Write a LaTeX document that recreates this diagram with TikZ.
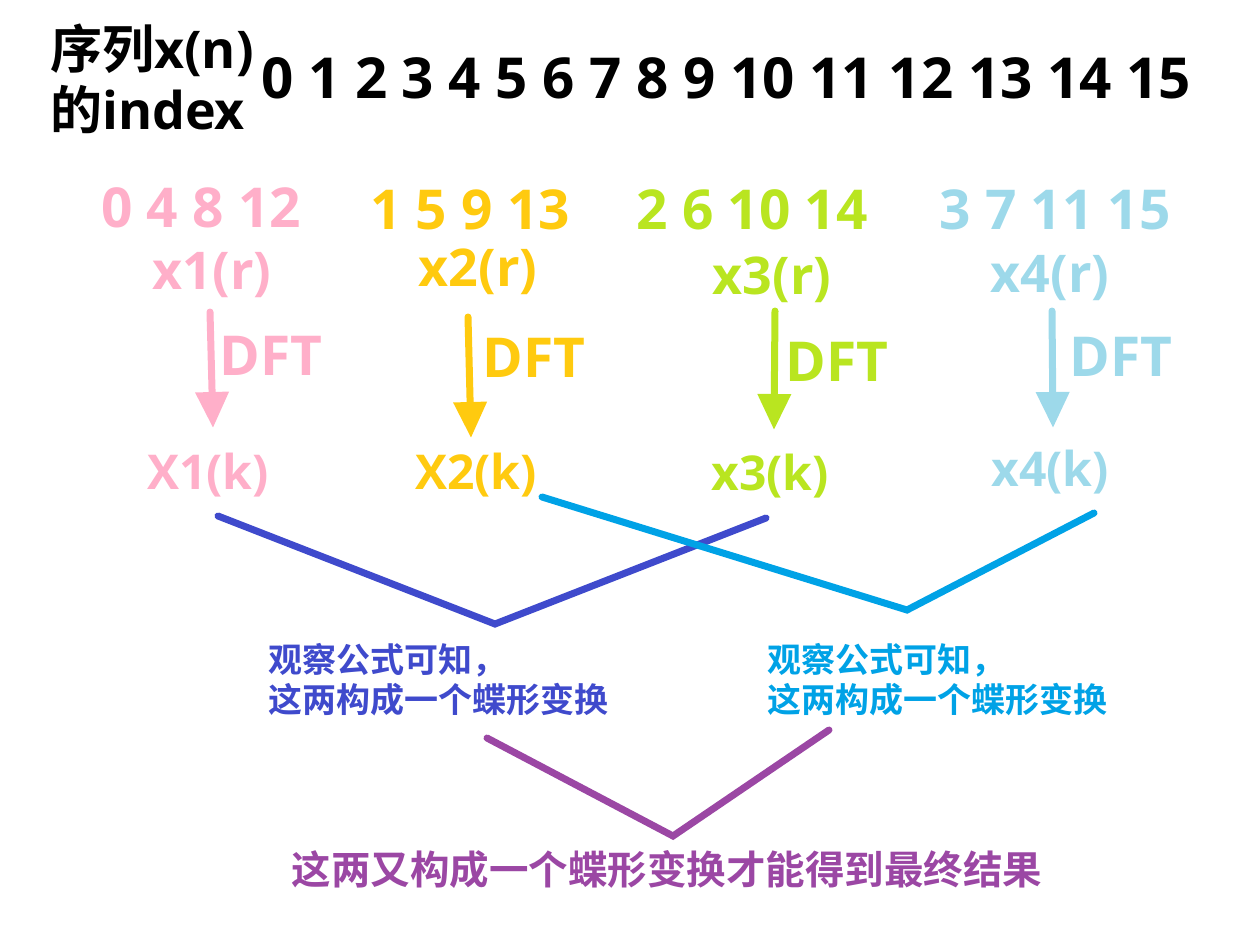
\documentclass[tikz,border=0pt]{standalone}
\usepackage{fontspec}
\setmainfont{Open Sans}[BoldFont={Open Sans Bold}]
\newfontfamily\cjk{Noto Sans CJK SC}[BoldFont={Noto Sans CJK SC Bold}]
\usetikzlibrary{arrows.meta}
\definecolor{cpink}{HTML}{FFAFC9}
\definecolor{cyel}{HTML}{FFCA0F}
\definecolor{cgrn}{HTML}{B9E520}
\definecolor{cblu}{HTML}{9DD9EA}
\definecolor{cdark}{HTML}{3F4ACC}
\definecolor{ccyan}{HTML}{00A2E6}
\definecolor{cpurp}{HTML}{9B47A4}
\tikzset{
  lbl/.style={inner sep=0pt, font=\bfseries\fontsize{#1}{#1}\selectfont},
  dft/.style={line width=7pt, -{Triangle[length=36pt,width=32pt]}},
  bfly/.style={line width=7pt, line cap=round, line join=miter},
}
\begin{document}
\begin{tikzpicture}[x=1pt,y=-1pt]
\useasboundingbox (0,0) rectangle (1251,934);
% header
\node[lbl=52, anchor=west, text=black] (hd1) at (50,50) {{\cjk 序列}x(n)};
\node[lbl=52, anchor=west, text=black] (hd2) at (50,110) {{\cjk 的}index};
\node[lbl=56.5, anchor=center, text=black] (idx) at (726,78) {0 1 2 3 4 5 6 7 8 9 10 11 12 13 14 15};
% groups
\node[lbl=55, text=cpink] (g1) at (201,208) {0 4 8 12};
\node[lbl=55, text=cyel] (g2) at (470,210) {1 5 9 13};
\node[lbl=55, text=cgrn] (g3) at (752,210) {2 6 10 14};
\node[lbl=55, text=cblu] (g4) at (1055,210) {3 7 11 15};
\node[lbl=52, text=cpink] (r1) at (212,275) {x1(r)};
\node[lbl=52, text=cyel] (r2) at (478,272) {x2(r)};
\node[lbl=52, text=cgrn] (r3) at (772,280) {x3(r)};
\node[lbl=52, text=cblu] (r4) at (1050,278) {x4(r)};
% arrows
\coordinate (a1s) at (210,312); \coordinate (a1e) at (213,428);
\coordinate (a2s) at (468,317); \coordinate (a2e) at (471,438);
\coordinate (a3s) at (775,311); \coordinate (a3e) at (774,430);
\coordinate (a4s) at (1052,311); \coordinate (a4e) at (1053,428);
\draw[dft, draw=cpink, fill=cpink, line cap=round] (a1s) -- (a1e);
\draw[dft, draw=cyel, fill=cyel, line cap=round] (a2s) -- (a2e);
\draw[dft, draw=cgrn, fill=cgrn, line cap=round] (a3s) -- (a3e);
\draw[dft, draw=cblu, fill=cblu, line cap=round] (a4s) -- (a4e);
\node[lbl=55, text=cpink] (d1) at (271,356) {DFT};
\node[lbl=55, text=cyel] (d2) at (534,358) {DFT};
\node[lbl=55, text=cgrn] (d3) at (837,362) {DFT};
\node[lbl=55, text=cblu] (d4) at (1121,357) {DFT};
\node[lbl=48, text=cpink] (k1) at (208,475) {X1(k)};
\node[lbl=48, text=cyel] (k2) at (476,475) {X2(k)};
\node[lbl=48, text=cgrn] (k3) at (770,476) {x3(k)};
\node[lbl=48, text=cblu] (k4) at (1050,472) {x4(k)};
% butterflies
\coordinate (b1a) at (218,516); \coordinate (b1m) at (495,624); \coordinate (b1b) at (766,518);
\coordinate (b2a) at (542,497); \coordinate (b2m) at (907,610); \coordinate (b2b) at (1094,513);
\draw[bfly, draw=cdark] (b1a) -- (b1m) -- (b1b);
\draw[bfly, draw=ccyan] (b2a) -- (b2m) -- (b2b);
\node[lbl=34, text=cdark, anchor=west] (t1a) at (268,660) {\cjk 观察公式可知，};
\node[lbl=34, text=cdark, anchor=west] (t1b) at (268,700) {\cjk 这两构成一个蝶形变换};
\node[lbl=34, text=ccyan, anchor=west] (t2a) at (767,660) {\cjk 观察公式可知，};
\node[lbl=34, text=ccyan, anchor=west] (t2b) at (767,700) {\cjk 这两构成一个蝶形变换};
\coordinate (c1a) at (487,738); \coordinate (c1m) at (673,836); \coordinate (c1b) at (829,730);
\draw[bfly, draw=cpurp] (c1a) -- (c1m) -- (c1b);
\node[lbl=39.5, text=cpurp] (t3) at (667,870) {\cjk 这两又构成一个蝶形变换才能得到最终结果};
\end{tikzpicture}
\end{document}
